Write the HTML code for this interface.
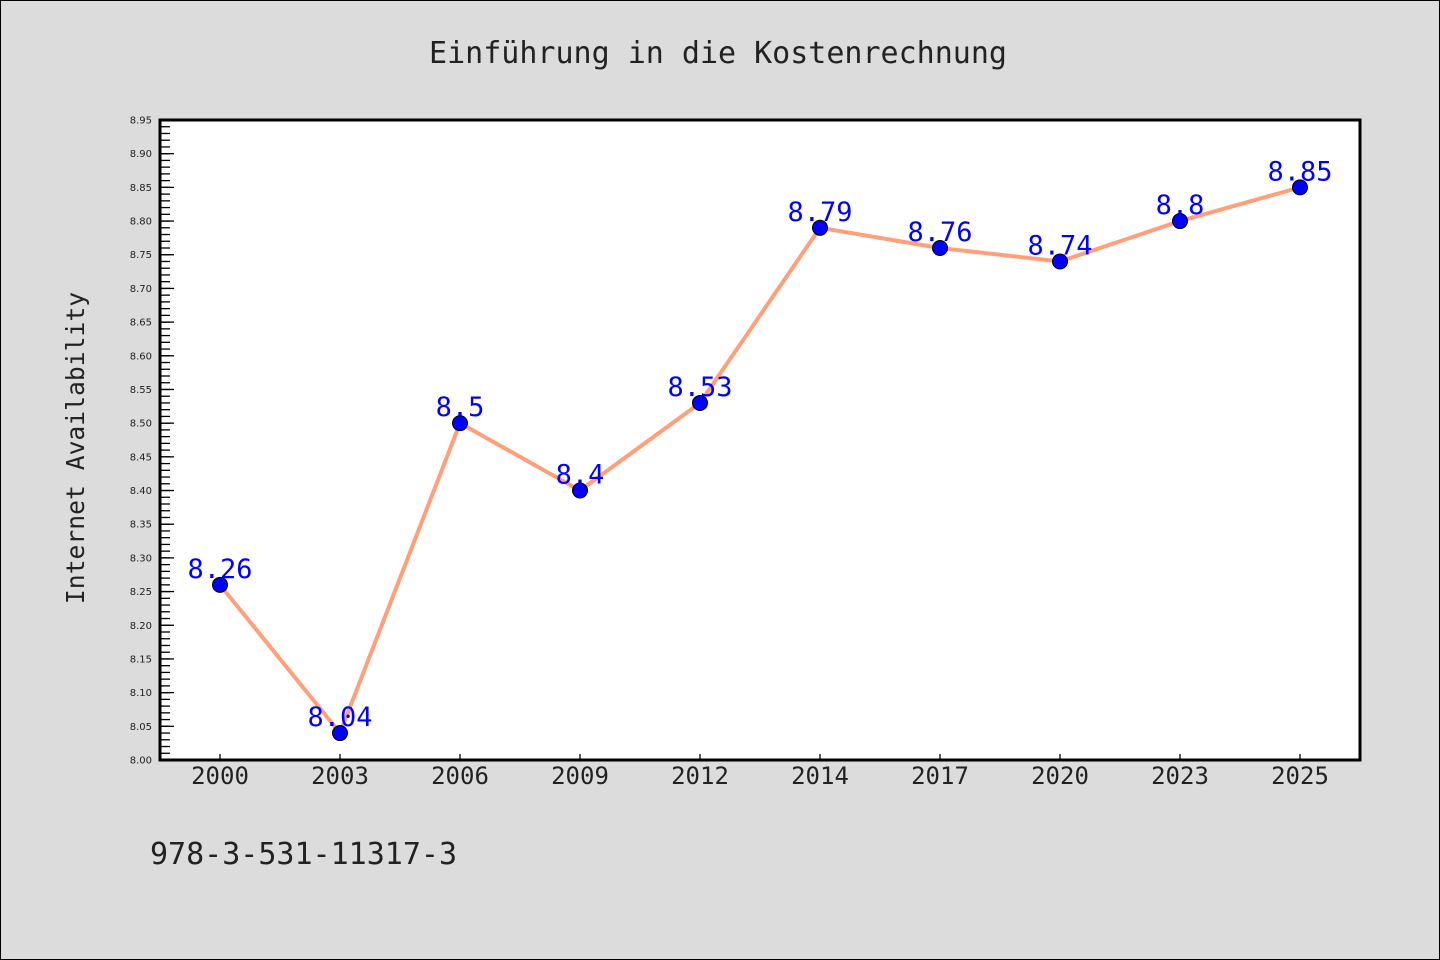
<!DOCTYPE html>
<html><head><meta charset="utf-8"><style>
body{margin:0;background:#dcdcdc;}
svg{display:block}
</style></head><body>
<svg width="1440" height="960" xmlns="http://www.w3.org/2000/svg">
<rect x="0.5" y="0.5" width="1439" height="959" fill="#dcdcdc" stroke="#000"/>
<text x="718" y="63" text-anchor="middle" font-family="DejaVu Sans Mono, Liberation Mono, monospace" font-size="30" fill="#222">Einführung in die Kostenrechnung</text>
<rect x="160" y="120" width="1200" height="640" fill="#fff"/>
<g id="yaxis"></g><g id="xaxis"></g>
<rect x="160" y="120" width="1200" height="640" fill="none" stroke="#000" stroke-width="3"/>
<text transform="translate(84,448) rotate(-90)" text-anchor="middle" font-family="DejaVu Sans Mono, Liberation Mono, monospace" font-size="24.7" fill="#222">Internet Availability</text>
<g id="series"></g>
<text x="150" y="864" font-family="DejaVu Sans Mono, Liberation Mono, monospace" font-size="30" fill="#222">978-3-531-11317-3</text>
</svg>
<script>
const categories=["2000","2003","2006","2009","2012","2014","2017","2020","2023","2025"];
const values=[8.26,8.04,8.5,8.4,8.53,8.79,8.76,8.74,8.8,8.85];
const yTicks=[8.00,8.05,8.10,8.15,8.20,8.25,8.30,8.35,8.40,8.45,8.50,8.55,8.60,8.65,8.70,8.75,8.80,8.85,8.90,8.95];
const NS="http://www.w3.org/2000/svg";
const yMin=8.0,yMax=8.95,yTop=120,yBot=760,xLeft=160,xRight=1360;
const y=v=>yBot-(v-yMin)/(yMax-yMin)*(yBot-yTop);
const band=(xRight-xLeft)/categories.length;
const x=i=>xLeft+band*(i+0.5);
function mk(t,a,p){const e=document.createElementNS(NS,t);for(const k in a)e.setAttribute(k,a[k]);p.appendChild(e);return e;}
const ya=document.getElementById('yaxis');
for(let k=0;k<=95;k++){
  const yy=y(yMin+k*0.01);
  const l=mk('line',{x1:xLeft,x2:xLeft+10,y1:yy,y2:yy,stroke:'#000','stroke-width':1.3},ya);
  
  
}
yTicks.forEach(t=>{
  const yy=y(t);
  const l=mk('line',{x1:xLeft,x2:xLeft+14,y1:yy,y2:yy,stroke:'#000','stroke-width':1.3},ya);
  
  
  const tx=mk('text',{x:152,y:yy+3.5,'text-anchor':'end','font-family':'DejaVu Sans, sans-serif','font-size':10,fill:'#222'},ya);
  tx.textContent=t.toFixed(2);
  
  
});
const xa=document.getElementById('xaxis');
categories.forEach((c,i)=>{
  const l=mk('line',{x1:x(i),x2:x(i),y1:yBot,y2:yBot-6,stroke:'#000','stroke-width':1.3},xa);
  
  
  const tx=mk('text',{x:x(i),y:784,'text-anchor':'middle','font-family':'DejaVu Sans Mono, Liberation Mono, monospace','font-size':24,fill:'#222'},xa);
  tx.textContent=c;
  
  
});
const s=document.getElementById('series');
const line=mk('polyline',{points:values.map((v,i)=>x(i)+','+y(v)).join(' '),fill:'none',stroke:'#ffa07a','stroke-width':4,'stroke-linejoin':'round'},s);


values.forEach((v,i)=>{
  const c=mk('circle',{cx:x(i),cy:y(v),r:7.5,fill:'#0000ff',stroke:'#000','stroke-width':1},s);
  
  
});
values.forEach((v,i)=>{
  const t=mk('text',{x:x(i),y:y(v)-7,'text-anchor':'middle','font-family':'DejaVu Sans Mono, Liberation Mono, monospace','font-size':27,fill:'#0000ff'},s);
  t.textContent=String(v);
  
  
});
</script>
</body></html>
